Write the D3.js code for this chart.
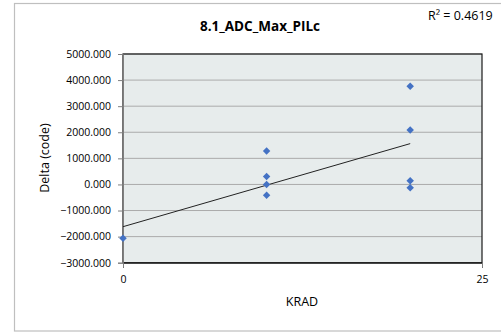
<!DOCTYPE html>
<html><head><meta charset="utf-8">
<script src="https://cdn.jsdelivr.net/npm/d3@7"></script>
<style>
html,body{margin:0;padding:0;background:#fff;overflow:hidden}
svg{display:block;font-family:"Open Sans","Liberation Sans",sans-serif}
</style></head>
<body><svg id="c" width="501" height="333"></svg>
<script>
const title = "8.1_ADC_Max_PILc";
const xTitle = "KRAD";
const yTitle = "Delta (code)";
const rSquaredLabel = "R² = 0.4619";
const krad = [0, 10, 10, 10, 10, 20, 20, 20, 20];
const delta = [-2065, 1285, 300, 0, -410, 3760, 2088, 140, -130];
const xTicks = [0, 25];
const yTicks = [-3000, -2000, -1000, 0, 1000, 2000, 3000, 4000, 5000];
// linear trendline as shown in the chart (endpoints)
const trendX = [0, 20];
const trendY = [-1620, 1565];

const svg = d3.select("#c");
const L = 123, R = 482, T = 54, B = 262.7;
const x = d3.scaleLinear().domain([0, 25]).range([L, R]);
const y = d3.scaleLinear().domain([-3000, 5000]).range([B, T]);

// outer chart border
svg.append("rect").attr("x", 14.5).attr("y", 3.5).attr("width", 520).attr("height", 327.5)
  .attr("fill", "#fff").attr("stroke", "#bfbfbf").attr("stroke-width", 1.2);

// plot area
svg.append("rect").attr("x", L).attr("y", T).attr("width", R - L).attr("height", B - T)
  .attr("fill", "#e7ecec");

// gridlines
svg.append("g").selectAll("line").data(yTicks).join("line")
  .attr("x1", L).attr("x2", R).attr("y1", d => y(d)).attr("y2", d => y(d))
  .attr("stroke", "#ababab").attr("stroke-width", 1);

// plot frame
svg.append("rect").attr("x", L).attr("y", T).attr("width", R - L).attr("height", B - T)
  .attr("fill", "none").attr("stroke", "#1a1a1a").attr("stroke-width", 1.2);

// axes
const yAxis = d3.axisLeft(y).tickValues(yTicks).tickFormat(d3.format(".3f")).tickSize(5).tickPadding(7);
const gy = svg.append("g").attr("transform", `translate(${L},0)`).call(yAxis);
gy.select(".domain").attr("stroke", "#7f7f7f");
gy.selectAll(".tick line").attr("stroke", "#7f7f7f");
gy.selectAll("text").attr("font-size", 10.5).attr("fill", "#000").attr("font-family", "Open Sans");

const xAxis = d3.axisBottom(x).tickValues(xTicks).tickFormat(d3.format("d")).tickSize(5).tickPadding(8);
const gx = svg.append("g").attr("transform", `translate(0,${B})`).call(xAxis);
gx.select(".domain").attr("stroke", "#1a1a1a");
gx.selectAll(".tick line").attr("stroke", "#7f7f7f");
gx.selectAll("text").attr("font-size", 10.5).attr("fill", "#000").attr("font-family", "Open Sans");

// trendline
svg.append("line")
  .attr("x1", x(trendX[0])).attr("y1", y(trendY[0]))
  .attr("x2", x(trendX[1])).attr("y2", y(trendY[1]))
  .attr("stroke", "#222").attr("stroke-width", 1);

// points
const diamond = d3.symbol().type(d3.symbolSquare).size(28);
svg.append("g").selectAll("path").data(krad.map((k, i) => [k, delta[i]])).join("path")
  .attr("d", diamond)
  .attr("transform", d => `translate(${x(d[0])},${y(d[1])}) rotate(45)`)
  .attr("fill", "#4472c4");

// titles
svg.append("text").attr("x", 260).attr("y", 31).attr("text-anchor", "middle")
  .attr("font-size", 13.5).attr("font-weight", "bold").attr("fill", "#000").text(title);
svg.append("text").attr("x", 302).attr("y", 306).attr("text-anchor", "middle")
  .attr("font-size", 12.5).attr("fill", "#000").text(xTitle);
svg.append("text").attr("transform", "translate(49,158) rotate(-90)").attr("text-anchor", "middle")
  .attr("font-size", 12.5).attr("fill", "#000").text(yTitle);
svg.append("text").attr("x", 428).attr("y", 20)
  .attr("font-size", 12.5).attr("fill", "#000").text(rSquaredLabel);
</script></body></html>
